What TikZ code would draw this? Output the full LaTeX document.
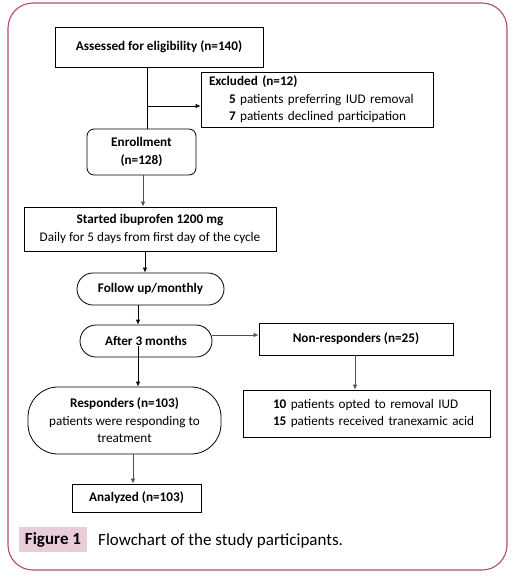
\documentclass[tikz,border=0pt]{standalone}
\usepackage{fontspec}
\setmainfont{Carlito}
\usetikzlibrary{arrows.meta}
\definecolor{framec}{RGB}{176,72,124}
\definecolor{labelc}{RGB}{232,204,218}
\definecolor{linegray}{RGB}{80,80,80}
\begin{document}
\begin{tikzpicture}[x=1pt,y=-1pt,
  font=\fontsize{13.2}{17.5}\selectfont,
  box/.style={draw, line width=0.8pt, inner sep=0pt, align=center},
  pill/.style={box, rounded corners=16pt},
  arr/.style={line width=0.8pt, -{Latex[length=5pt,width=4.5pt]}},
  ln/.style={line width=0.8pt}]
\useasboundingbox (0,0) rectangle (524,582);
\draw[framec, line width=1.1pt, rounded corners=25pt] (8,3) rectangle (507,570);

\node[box, minimum width=232pt, minimum height=55pt, text width=216pt, align=left] (excl) at (317,99.5)
  {\textbf{Excluded (n=12)}\\\hspace*{20pt}\textbf{5} patients preferring IUD removal\\\hspace*{20pt}\textbf{7} patients declined participation};
\node[box, minimum width=208pt, minimum height=40pt] (assess) at (159,47) {\textbf{Assessed for eligibility (n=140)}};
\node[box, rounded corners=7pt, minimum width=109pt, minimum height=46pt] (enroll) at (141.5,152) {\textbf{Enrollment}\\\textbf{(n=128)}};
\node[box, minimum width=252pt, minimum height=44pt] (started) at (150,229) {\textbf{Started ibuprofen 1200 mg}\\Daily for 5 days from first day of the cycle};
\node[pill, minimum width=147pt, minimum height=32pt] (follow) at (150.5,289) {\textbf{Follow up/monthly}};
\node[pill, minimum width=132pt, minimum height=32pt] (after) at (146,341) {\textbf{After 3 months}};
\node[box, minimum width=194pt, minimum height=32pt] (nonresp) at (356,339) {\textbf{Non-responders (n=25)}};
\node[box, minimum width=247pt, minimum height=47pt, text width=217pt, align=left] (treat) at (366.5,413.5)
  {\hspace*{15pt}\textbf{10} patients opted to removal IUD\\\hspace*{15pt}\textbf{15} patients received tranexamic acid};
\node[box, rounded corners=30pt, minimum width=193pt, minimum height=67pt] (resp) at (124.5,420.5)
  {\textbf{Responders (n=103)}\\patients were responding to\\treatment};
\node[box, minimum width=129pt, minimum height=28pt] (anal) at (136.5,498) {\textbf{Analyzed (n=103)}};

\node[fill=labelc, minimum width=68pt, minimum height=25pt, inner sep=0pt, font=\fontsize{17}{19}\selectfont\bfseries] (figlab) at (53,539.5) {Figure 1};
\node[anchor=west, inner sep=0pt, font=\fontsize{17}{19}\selectfont] (figcap) at (98,540.5) {Flowchart of the study participants.};

\coordinate (c147) at (147,0);
\coordinate (c106) at (0,106);
\coordinate (c143) at (143,0);
\coordinate (c145) at (145,0);
\coordinate (c138) at (138,0);
\coordinate (c335) at (0,335);
\coordinate (c355) at (355,0);
\coordinate (c133) at (133,0);
\coordinate (afterin) at (138,346);

\draw[ln] (assess.south -| c147) -- (enroll.north -| c147);
\draw[arr] (c147 |- c106) -- (excl.west |- c106);
\draw[arr, linegray] (enroll.south -| c143) -- (started.north -| c143);
\draw[arr] (started.south -| c145) -- (follow.north -| c145);
\draw[arr] (follow.south -| c138) -- (after.north -| c138);
\draw[arr, linegray] (212,335) -- (nonresp.west |- c335);
\draw[arr, linegray] (nonresp.south -| c355) -- (treat.north -| c355);
\draw[arr] (afterin) -- (resp.north -| c138);
\draw[arr, linegray] (resp.south -| c133) -- (anal.north -| c133);
\end{tikzpicture}
\end{document}
